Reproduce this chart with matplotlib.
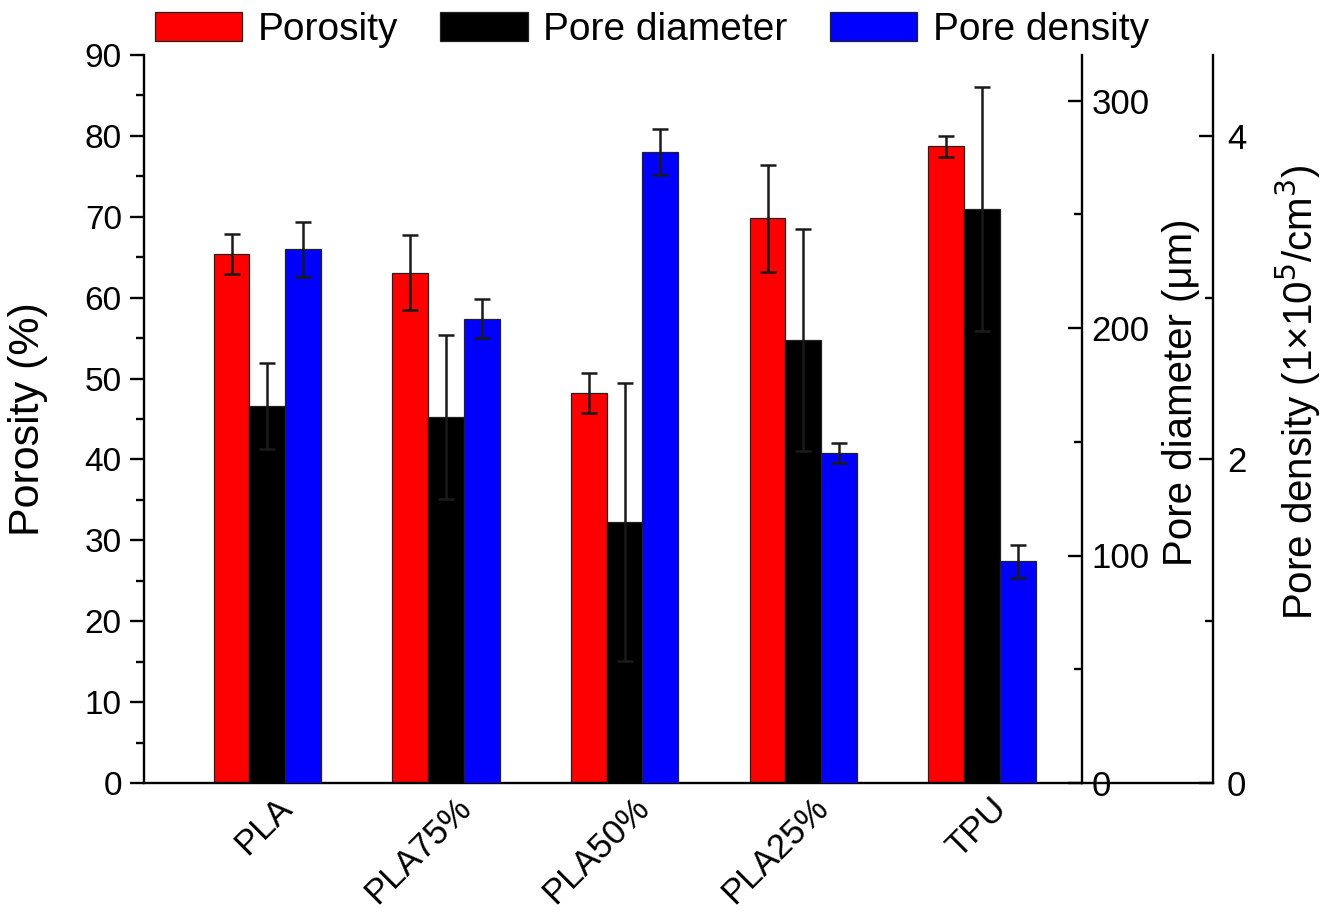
import matplotlib
matplotlib.use('Agg')
import matplotlib.pyplot as plt
import matplotlib.transforms as mtransforms
import numpy as np
from matplotlib.ticker import MultipleLocator
from matplotlib.lines import Line2D

plt.rcParams['font.family'] = ['Liberation Sans', 'DejaVu Sans']

samples = ['PLA', 'PLA75%', 'PLA50%', 'PLA25%', 'TPU']
porosity = [65.4, 63.1, 48.2, 69.8, 78.7]
porosity_err = [2.5, 4.6, 2.5, 6.6, 1.3]
pore_diameter = [165.7, 161.0, 114.8, 194.7, 252.2]
pore_diameter_err = [19.0, 36.0, 61.0, 48.7, 53.6]
pore_density = [3.30, 2.87, 3.90, 2.04, 1.37]
pore_density_err = [0.17, 0.12, 0.14, 0.06, 0.10]

W, H = 1338, 923
fig = plt.figure(figsize=(W / 100, H / 100), dpi=100)
ax = fig.add_axes([144 / W, 1 - 783 / H, 938 / W, 728 / H])
ax2 = ax.twinx()
ax3 = ax.twinx()
x3pos = (1213 - 144) / 938
ax3.spines['right'].set_position(('axes', x3pos))

x = np.arange(len(samples))
w = 0.2
ekw = dict(ecolor='#1a1a1a', elinewidth=1.8, capsize=6, capthick=1.8)
b1 = ax.bar(x - w, porosity, w, yerr=porosity_err, color='#ff0000',
            edgecolor='#222222', linewidth=0.9, error_kw=ekw, label='Porosity')
b2 = ax2.bar(x, pore_diameter, w, yerr=pore_diameter_err, color='#000000',
             edgecolor='#222222', linewidth=0.9, error_kw=ekw, label='Pore diameter')
b3 = ax3.bar(x + w, pore_density, w, yerr=pore_density_err, color='#0000ff',
             edgecolor='#222222', linewidth=0.9, error_kw=ekw, label='Pore density')

ax.set_xlim(-0.69, 4.56)
ax.set_ylim(0, 90)
ax2.set_ylim(0, 320)
ax3.set_ylim(0, 4.5)

lw = 1.7
for a in (ax, ax2, ax3):
    for s in a.spines.values():
        s.set_linewidth(lw)
    a.spines['top'].set_visible(False)
ax.spines['right'].set_visible(False)
for a in (ax2, ax3):
    a.spines['left'].set_visible(False)
    a.spines['bottom'].set_visible(False)

ax.yaxis.set_major_locator(MultipleLocator(10))
ax.yaxis.set_minor_locator(MultipleLocator(5))
ax.tick_params(axis='y', which='major', direction='out', length=10, width=lw,
               labelsize=24, pad=6)
ax.tick_params(axis='y', which='minor', direction='out', length=5.5, width=lw)
ax.set_xticks(x)
ax.set_xticklabels(samples, rotation=45, ha='right', rotation_mode='anchor')
ax.tick_params(axis='x', length=0, labelsize=25, pad=6)
offset = mtransforms.ScaledTranslation(0.08, 0, fig.dpi_scale_trans)
for lab in ax.get_xticklabels():
    lab.set_transform(lab.get_transform() + offset)

ax2.yaxis.set_major_locator(MultipleLocator(100))
ax2.yaxis.set_minor_locator(MultipleLocator(50))
ax2.tick_params(axis='y', which='major', direction='in', length=10, width=lw,
                labelsize=25, pad=7)
ax2.tick_params(axis='y', which='minor', direction='in', length=5.5, width=lw)

ax3.yaxis.set_major_locator(MultipleLocator(2))
ax3.yaxis.set_minor_locator(MultipleLocator(1))
ax3.tick_params(axis='y', which='major', direction='in', length=10, width=lw,
                labelsize=25, pad=10)
ax3.tick_params(axis='y', which='minor', direction='in', length=5.5, width=lw)

# bottom line extension to third axis
ax.add_line(Line2D([1.0, x3pos], [0, 0], transform=ax.transAxes,
                   color='black', linewidth=lw, clip_on=False))

ax.set_ylabel('Porosity (%)', fontsize=31)
ax.yaxis.set_label_coords(-0.102, 0.5)
ax2.set_ylabel('Pore diameter (\u03bcm)', fontsize=29)
ax2.yaxis.set_label_coords(1.085, 0.537)
ax3.set_ylabel('Pore density (1\u00d710$^{5}$/cm$^{3}$)', fontsize=29)
ax3.yaxis.set_label_coords(1.205, 0.537)

fig.legend(handles=[b1, b2, b3], loc='center', bbox_to_anchor=(0.487, 0.967),
           ncol=3, frameon=False, fontsize=28, handlelength=2.25,
           handleheight=0.77, handletextpad=0.4, columnspacing=1.08)

fig.savefig('out.png', dpi=100)
